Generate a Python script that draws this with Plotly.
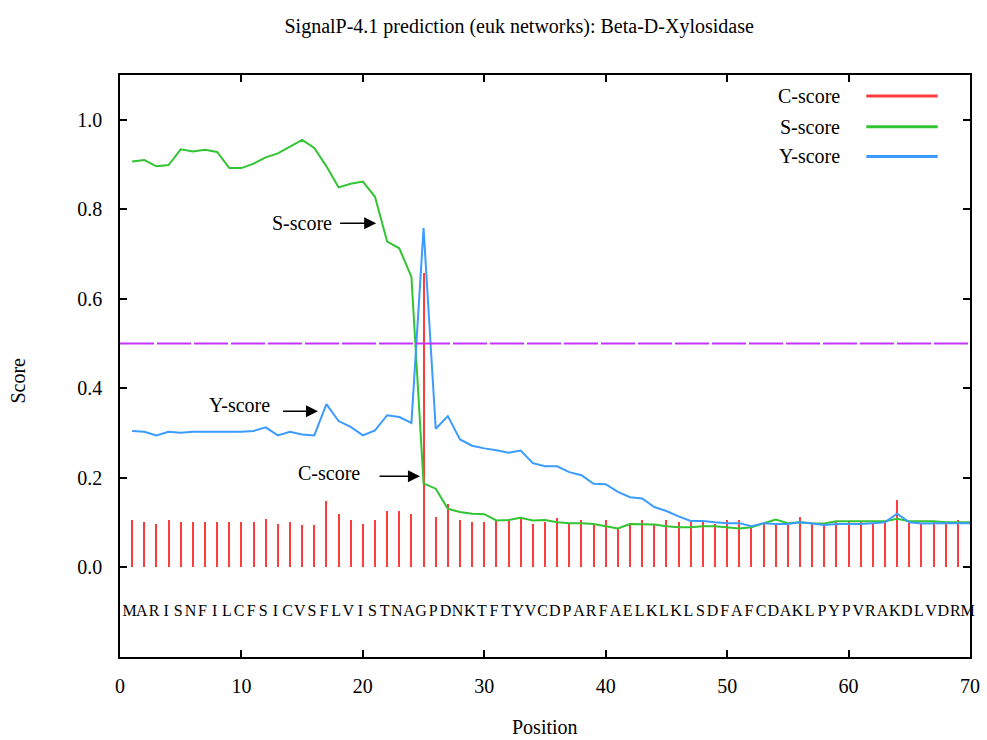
import plotly.graph_objects as go

# ---------------- data ----------------
sequence = "MARISNFILCFSICVSFLVISTNAGPDNKTFTYVCDPARFAELKLKLSDFAFCDAKLPYPVRAKDLVDRM"
positions = list(range(1, 71))
c_positions = list(range(1, 70))

c_score = [0.105, 0.101, 0.098, 0.105, 0.101, 0.101, 0.101, 0.101, 0.101, 0.101,
           0.101, 0.109, 0.098, 0.101, 0.094, 0.094, 0.148, 0.120, 0.105, 0.098,
           0.105, 0.126, 0.127, 0.120, 0.657, 0.113, 0.142, 0.105, 0.101, 0.101,
           0.103, 0.107, 0.110, 0.098, 0.102, 0.110, 0.099, 0.105, 0.097, 0.105,
           0.087, 0.097, 0.105, 0.097, 0.105, 0.101, 0.101, 0.101, 0.098, 0.105,
           0.105, 0.090, 0.098, 0.097, 0.098, 0.113, 0.098, 0.092, 0.101, 0.101,
           0.101, 0.099, 0.099, 0.151, 0.099, 0.097, 0.101, 0.101, 0.105]

s_score = [0.907, 0.910, 0.896, 0.899, 0.934, 0.929, 0.933, 0.928, 0.892, 0.892,
           0.902, 0.916, 0.925, 0.940, 0.955, 0.937, 0.896, 0.849, 0.857, 0.862,
           0.828, 0.728, 0.713, 0.649, 0.188, 0.176, 0.131, 0.124, 0.120, 0.119,
           0.105, 0.106, 0.111, 0.105, 0.106, 0.101, 0.099, 0.099, 0.097, 0.092,
           0.087, 0.097, 0.096, 0.096, 0.092, 0.090, 0.090, 0.092, 0.092, 0.090,
           0.087, 0.090, 0.098, 0.107, 0.099, 0.101, 0.099, 0.098, 0.103, 0.103,
           0.103, 0.103, 0.103, 0.109, 0.103, 0.103, 0.103, 0.101, 0.101, 0.101]

y_score = [0.305, 0.303, 0.295, 0.303, 0.301, 0.303, 0.303, 0.303, 0.303, 0.303,
           0.305, 0.313, 0.295, 0.303, 0.297, 0.295, 0.365, 0.327, 0.314, 0.295,
           0.306, 0.340, 0.336, 0.323, 0.758, 0.310, 0.338, 0.286, 0.272, 0.266,
           0.262, 0.256, 0.261, 0.233, 0.226, 0.226, 0.213, 0.206, 0.187, 0.186,
           0.169, 0.157, 0.154, 0.135, 0.126, 0.114, 0.104, 0.104, 0.101, 0.099,
           0.099, 0.092, 0.099, 0.097, 0.097, 0.101, 0.098, 0.095, 0.097, 0.097,
           0.097, 0.099, 0.101, 0.120, 0.101, 0.098, 0.099, 0.099, 0.099, 0.099]

threshold = 0.5
x_ticks = [0, 10, 20, 30, 40, 50, 60, 70]
y_ticks = [0.0, 0.2, 0.4, 0.6, 0.8, 1.0]
y_tick_labels = ["0.0", "0.2", "0.4", "0.6", "0.8", "1.0"]
series_names = ["C-score", "S-score", "Y-score"]

# ---------------- style ----------------
SERIF = "Liberation Serif, Times New Roman, serif"
RED = "#ff3c3c"
GREEN = "#33c433"
BLUE = "#3c9bff"
MAGENTA = "#c433ff"
X_RANGE = [0, 70]
Y_RANGE = [-0.2, 1.1]
SEQ_Y = -0.1
LETTER_SHIFT = -0.2

fig = go.Figure()

fig.add_trace(go.Bar(x=c_positions, y=c_score, width=0.17,
                     marker=dict(color=RED, line=dict(width=0)),
                     name=series_names[0], showlegend=False))
fig.add_trace(go.Scatter(x=positions, y=s_score, mode="lines",
                         line=dict(color=GREEN, width=2),
                         name=series_names[1], showlegend=False))
fig.add_trace(go.Scatter(x=positions, y=y_score, mode="lines",
                         line=dict(color=BLUE, width=2),
                         name=series_names[2], showlegend=False))
fig.add_trace(go.Scatter(x=X_RANGE, y=[threshold, threshold], mode="lines",
                         line=dict(color=MAGENTA, width=2, dash="34px,3px"),
                         showlegend=False, hoverinfo="skip"))
fig.add_trace(go.Scatter(x=[p + LETTER_SHIFT for p in positions],
                         y=[SEQ_Y] * len(positions), mode="text",
                         text=list(sequence),
                         textfont=dict(family=SERIF, size=16, color="black"),
                         showlegend=False, hoverinfo="skip", cliponaxis=False))

axis_common = dict(showline=True, linecolor="black", linewidth=1.5,
                   mirror="ticks", ticks="inside", ticklen=7, tickwidth=1.5,
                   tickcolor="black", showgrid=False, zeroline=False,
                   automargin=False,
                   tickfont=dict(family=SERIF, size=20, color="black"))

fig.update_layout(
    width=987, height=740,
    margin=dict(l=120, r=17, t=75, b=83, autoexpand=False),
    paper_bgcolor="white", plot_bgcolor="white",
    font=dict(family=SERIF, size=20, color="black"),
    title=dict(text="SignalP-4.1 prediction (euk networks): Beta-D-Xylosidase",
               x=0.526, xanchor="center", y=0.965, yanchor="middle",
               font=dict(family=SERIF, size=20, color="black")),
    xaxis=dict(range=X_RANGE, tickvals=x_ticks, ticklabelstandoff=10,
               **axis_common),
    yaxis=dict(range=Y_RANGE, tickvals=y_ticks, ticktext=y_tick_labels,
               ticklabelstandoff=12, **axis_common),
    bargap=0, showlegend=False,
)

# axis titles
fig.add_annotation(x=0.5, y=-0.12, xref="paper", yref="paper", text="Position",
                   showarrow=False, xanchor="center", yanchor="middle",
                   font=dict(family=SERIF, size=20, color="black"))
fig.add_annotation(x=-0.12, y=0.475, xref="paper", yref="paper", text="Score",
                   showarrow=False, xanchor="center", yanchor="middle",
                   textangle=-90,
                   font=dict(family=SERIF, size=20, color="black"))

# ---- in-plot labels with arrows ----
labels = [
    # (text, text_x, text_y, arrow_tail_x, arrow_head_x, arrow_y)
    ("S-score", 15.0, 0.769, 18.0, 21.1, 0.769),
    ("Y-score", 9.85, 0.362, 13.3, 16.3, 0.349),
    ("C-score", 17.25, 0.210, 21.25, 24.7, 0.2036),
]
for text, tx, ty, ax, hx, ay in labels:
    fig.add_annotation(x=tx, y=ty, xref="x", yref="y", text=text,
                       showarrow=False, xanchor="center", yanchor="middle",
                       font=dict(family=SERIF, size=20, color="black"))
    fig.add_annotation(x=hx, y=ay, ax=ax, ay=ay, xref="x", yref="y",
                       axref="x", ayref="y", text="", showarrow=True,
                       arrowhead=2, arrowsize=1.6, arrowwidth=1.5,
                       arrowcolor="black", standoff=0, startstandoff=0)

# ---- legend (text left, sample line right) ----
legend_rows = [0.964, 0.911, 0.860]
for name, color, ly in zip(series_names, [RED, GREEN, BLUE], legend_rows):
    fig.add_annotation(x=0.849, y=ly, xref="paper", yref="paper", text=name,
                       showarrow=False, xanchor="right", yanchor="middle",
                       font=dict(family=SERIF, size=20, color="black"))
    fig.add_shape(type="line", xref="paper", yref="paper",
                  x0=0.878, x1=0.962, y0=ly, y1=ly,
                  line=dict(color=color, width=3))

fig.write_html("out.html",
               config={"displayModeBar": False},
               post_script="document.body.style.margin='0';"
                           "document.body.style.overflow='hidden';")
